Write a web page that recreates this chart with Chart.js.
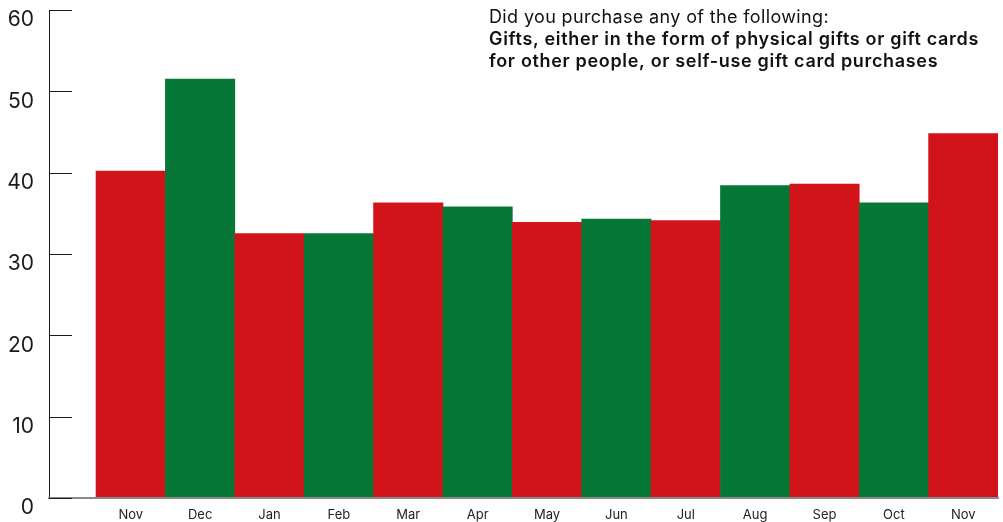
<!DOCTYPE html>
<html>
<head>
<meta charset="utf-8">
<script src="https://cdn.jsdelivr.net/npm/chart.js@4"></script>
<style>
  html, body { margin: 0; padding: 0; background: #fff; }
  canvas { display: block; }
</style>
</head>
<body>
<canvas id="c" width="1003" height="522"></canvas>
<script>
// Monthly share of respondents who bought gifts (%)
const months = ['Nov', 'Dec', 'Jan', 'Feb', 'Mar', 'Apr', 'May', 'Jun', 'Jul', 'Aug', 'Sep', 'Oct', 'Nov'];
const giftShare = [40.2, 51.5, 32.5, 32.5, 36.3, 35.8, 33.9, 34.3, 34.1, 38.4, 38.6, 36.3, 44.8];
const yTicks = [0, 10, 20, 30, 40, 50, 60];
const questionLine = 'Did you purchase any of the following:';
const answerLines = [
  'Gifts, either in the form of physical gifts or gift cards',
  'for other people, or self-use gift card purchases'
];

const RED = '#D1141A';
const GREEN = '#067737';
const FONT = 'Inter, "Noto Sans", sans-serif';

// Short tick marks that sit just inside the value axis
const innerTicks = {
  id: 'innerTicks',
  afterDraw(chart) {
    const { ctx, scales: { y }, chartArea } = chart;
    ctx.save();
    ctx.strokeStyle = '#1a1a1a';
    ctx.lineWidth = 1;
    yTicks.forEach(v => {
      const py = Math.round(y.getPixelForValue(v)) + 0.5;
      ctx.beginPath();
      ctx.moveTo(chartArea.left, py);
      ctx.lineTo(chartArea.left + 23, py);
      ctx.stroke();
    });
    ctx.restore();
  }
};

// Letter spacing that makes a line span the given width
function spacingFor(ctx, text, width) {
  ctx.letterSpacing = '0px';
  const w = ctx.measureText(text).width;
  return Math.max(0, (width - w) / text.length);
}

// Question text block in the upper right
const questionText = {
  id: 'questionText',
  afterDraw(chart) {
    const { ctx } = chart;
    ctx.save();
    ctx.fillStyle = '#111';
    ctx.textAlign = 'left';
    ctx.textBaseline = 'alphabetic';
    ctx.font = '400 18px ' + FONT;
    let ls = spacingFor(ctx, questionLine, 340);
    ctx.letterSpacing = ls + 'px';
    ctx.fillText(questionLine, 489, 22.7);
    ctx.font = '600 18px ' + FONT;
    ls = spacingFor(ctx, answerLines[0], 490);
    ctx.letterSpacing = ls + 'px';
    answerLines.forEach((t, i) => ctx.fillText(t, 489, 45 + i * 21.7));
    ctx.restore();
  }
};

new Chart(document.getElementById('c'), {
  type: 'bar',
  data: {
    datasets: [{
      data: giftShare.map((v, i) => ({ x: i, y: v })),
      backgroundColor: giftShare.map((_, i) => (i % 2 === 0 ? RED : GREEN)),
      borderWidth: 0,
      barPercentage: 1,
      categoryPercentage: 1
    }]
  },
  options: {
    responsive: false,
    animation: false,
    devicePixelRatio: 1,
    layout: { padding: { top: 10, right: 5, left: 0, bottom: 0 } },
    plugins: { legend: { display: false }, tooltip: { enabled: false }, title: { display: false } },
    scales: {
      x: {
        type: 'linear',
        offset: false,
        min: -1.178,
        max: 12.5,
        grid: { display: false, drawTicks: false },
        border: { display: true, color: '#8a8a8a', width: 2, z: 1 },
        afterBuildTicks(s) { s.ticks = months.map((_, i) => ({ value: i })); },
        ticks: {
          autoSkip: false,
          maxRotation: 0,
          padding: 9,
          color: '#222',
          font: { family: FONT, size: 13 },
          callback: (v) => months[v] ?? ''
        },
        afterFit(s) { s.height = 24; s.paddingLeft = 0; s.paddingRight = 0; }
      },
      y: {
        min: 0,
        max: 60,
        afterBuildTicks(s) { s.ticks = yTicks.map(v => ({ value: v })); },
        grid: { display: false, drawTicks: false },
        border: { display: true, color: '#1a1a1a', width: 1 },
        ticks: {
          padding: 15,
          labelOffset: 10,
          color: '#1a1a1a',
          font: { family: FONT, size: 21 }
        },
        afterFit(s) { s.width = 49; s.paddingTop = 0; s.paddingBottom = 0; }
      }
    }
  },
  plugins: [innerTicks, questionText]
});
</script>
</body>
</html>
